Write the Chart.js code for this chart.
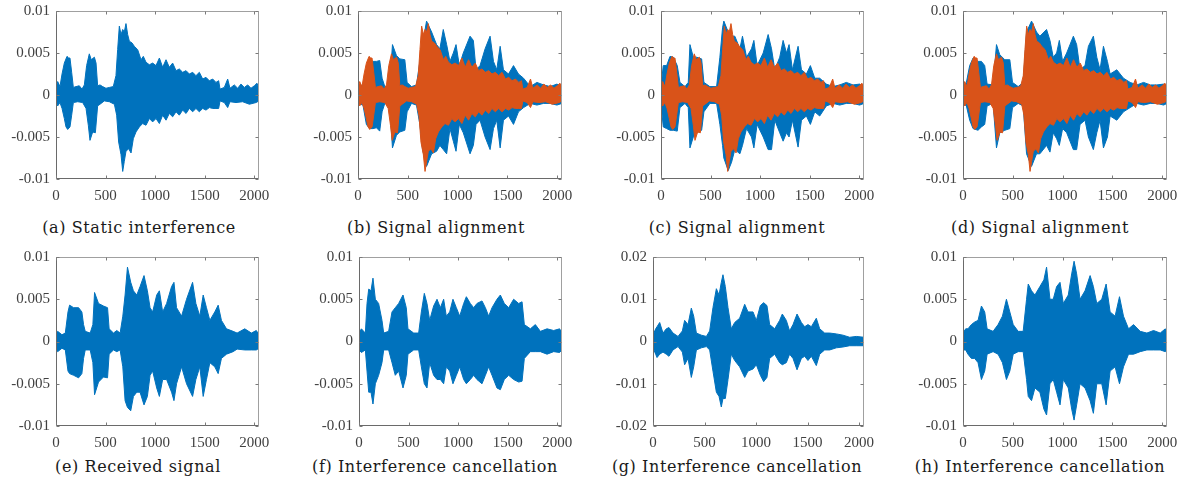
<!DOCTYPE html>
<html lang="en">
<head>
<meta charset="UTF-8" />
<title>Static interference, signal alignment and interference cancellation</title>
<script src="https://cdn.jsdelivr.net/npm/chart.js"></script>
<style>
  body { margin: 0; background: #fff; width: 1195px; height: 488px; position: relative; overflow: hidden; }
  canvas { position: absolute; }
  .cap {
    position: absolute; transform: translateX(-50%); white-space: nowrap;
    font-family: "DejaVu Serif", serif; font-size: 16px; letter-spacing: 0.6px;
    line-height: 20px; color: #1a1a1a;
  }
</style>
</head>
<body>
<canvas id="pa"></canvas><canvas id="pb"></canvas><canvas id="pc"></canvas><canvas id="pd"></canvas>
<canvas id="pe"></canvas><canvas id="pf"></canvas><canvas id="pg"></canvas><canvas id="ph"></canvas>

<div class="cap" style="left:139px;top:218px">(a) Static interference</div>
<div class="cap" style="left:436px;top:218px">(b) Signal alignment</div>
<div class="cap" style="left:737px;top:218px">(c) Signal alignment</div>
<div class="cap" style="left:1040px;top:218px">(d) Signal alignment</div>
<div class="cap" style="left:138px;top:457px">(e) Received signal</div>
<div class="cap" style="left:435px;top:457px">(f) Interference cancellation</div>
<div class="cap" style="left:737px;top:457px">(g) Interference cancellation</div>
<div class="cap" style="left:1040px;top:457px">(h) Interference cancellation</div>

<script>
// amplitudes are in units of 1e-3, read as upper / lower envelope of each waveform
// x = sample index (0..2048)

// tick labels
const xTickVals = [0, 500, 1000, 1500, 2000];
const xTickLabels = ['0', '500', '1000', '1500', '2000'];
const yTickVals = [-10, -5, 0, 5, 10];
const yTickLabels = ['-0.01', '-0.005', '0', '0.005', '0.01'];
const yTickValsG = [-20, -10, 0, 10, 20];
const yTickLabelsG = ['-0.02', '-0.01', '0', '0.01', '0.02'];

// (a) static interference (also the orange trace in b, c, d)
const xAhi = [0,17,40,61,84,111,128,141,158,175,202,235,262,286,309,336,356,387,404,420,444,471,504,538,578,605,622,639,656,673,689,706,723,740,767,790,824,858,881,908,942,975,1009,1043,1076,1110,1143,1177,1211,1244,1278,1312,1345,1379,1412,1446,1480,1513,1547,1581,1614,1641,1655,1698,1732,1755,1799,1833,1866,1900,1934,1967,2001,2028,2048];
const hiA = [0.7,1.6,1.0,2.5,3.8,4.6,4.4,4.4,2.7,0.9,1.0,1.1,0.7,1.2,3.5,4.9,4.2,4.5,3.8,1.1,1.2,1.0,0.8,0.9,1.0,2.3,5.4,8.2,7.2,7.8,7.5,8.5,7.2,6.4,6.2,5.8,5.4,4.2,4.6,3.9,3.6,3.8,3.5,4.4,3.3,4.2,3.3,3.8,2.9,3.1,2.7,2.9,2.5,2.7,2.3,2.7,1.9,2.1,1.7,1.9,1.5,1.7,0.7,0.9,1.9,0.8,1.2,0.8,1.3,0.9,1.2,0.8,1.1,1.4,0.7];
const xAlo = [0,17,40,61,84,101,118,141,158,175,219,269,303,326,343,370,397,420,444,488,538,589,612,632,656,673,689,706,733,757,780,807,841,874,908,942,975,1009,1043,1076,1110,1143,1177,1211,1244,1278,1312,1345,1379,1412,1446,1480,1513,1547,1581,1614,1641,1655,1698,1732,1755,1816,1883,1951,2018,2048];
const loA = [-0.7,-1.3,-0.9,-1.6,-2.8,-3.8,-4.1,-3.8,-2.4,-0.9,-0.8,-0.9,-1.6,-3.6,-5.4,-4.4,-4.5,-1.3,-1.1,-0.7,-0.8,-1.1,-2.4,-5.6,-7.1,-9.1,-7.9,-6.7,-6.4,-6.9,-5.2,-4.4,-3.8,-3.4,-3.6,-2.8,-3.2,-2.8,-3.4,-2.4,-3.0,-2.2,-2.6,-2.0,-2.4,-1.8,-2.2,-1.6,-2.0,-1.6,-2.0,-1.6,-1.8,-1.5,-1.6,-1.6,-1.6,-0.7,-0.9,-1.5,-0.8,-0.9,-0.8,-1.1,-0.9,-0.7];

// (b) blue trace
const xB = [0,50,84,117,151,185,218,242,269,319,346,386,420,470,493,537,587,621,648,688,739,789,822,856,890,923,957,984,1017,1057,1125,1158,1185,1225,1276,1326,1360,1393,1427,1460,1511,1561,1611,1662,1729,1796,1863,1930,1997,2048];
const hiB = [1.0,1.2,3.0,4.2,4.0,4.0,4.1,2.0,1.0,1.1,6.0,4.7,4.3,4.2,1.5,1.0,1.2,4.0,6.0,8.8,7.5,6.0,5.5,7.8,6.0,4.0,5.0,6.0,3.5,5.0,7.0,6.5,3.0,3.5,5.5,7.0,4.0,3.0,5.8,3.0,2.5,3.5,2.5,2.0,1.0,1.5,1.2,1.0,1.3,1.0];
const loB = [-1.0,-1.2,-3.5,-4.0,-4.0,-3.9,-4.3,-2.0,-1.0,-1.1,-6.3,-4.8,-4.4,-4.2,-2.0,-1.0,-1.2,-3.5,-6.5,-8.5,-7.0,-6.7,-6.0,-6.5,-7.0,-4.0,-5.5,-6.7,-3.5,-4.5,-7.0,-6.0,-3.5,-3.0,-5.0,-6.5,-4.0,-3.0,-6.3,-3.0,-2.5,-3.5,-2.0,-1.5,-1.0,-1.2,-1.0,-1.0,-1.2,-1.0];

// (c) blue trace
const xC = [0,23,57,91,124,164,191,242,275,292,326,359,410,433,493,561,594,621,634,678,712,745,796,822,863,913,937,970,1031,1081,1115,1148,1198,1232,1266,1292,1326,1383,1417,1467,1507,1551,1601,1668,1736,1803,1870,1937,2004,2048];
const hiC = [1.0,3.5,3.5,4.6,4.5,3.5,1.5,1.0,1.5,6.0,4.5,4.5,4.3,1.5,1.0,1.0,4.5,8.0,8.8,7.5,7.0,7.0,5.5,7.0,4.5,5.5,6.5,3.5,5.0,7.2,5.5,3.0,4.5,6.5,5.0,6.0,3.0,5.8,3.0,2.5,3.5,2.0,2.0,1.3,1.0,1.2,1.5,1.2,1.3,1.0];
const loC = [-1.0,-3.8,-4.0,-4.2,-4.2,-4.3,-1.5,-1.0,-1.5,-6.3,-5.0,-4.5,-4.2,-2.0,-1.0,-1.0,-3.5,-6.0,-7.5,-9.0,-8.0,-6.5,-7.0,-6.0,-4.0,-5.0,-6.3,-3.5,-5.0,-6.5,-6.5,-3.0,-4.5,-5.5,-4.5,-5.0,-3.0,-6.2,-3.0,-2.5,-3.5,-2.0,-2.5,-1.3,-1.0,-1.2,-1.0,-1.0,-1.2,-1.0];

// (d) blue trace
const xD = [0,34,67,101,151,185,218,242,302,336,369,420,470,497,554,604,638,688,738,772,839,873,906,940,967,1000,1041,1108,1141,1175,1225,1259,1309,1343,1376,1410,1450,1477,1544,1611,1678,1746,1813,1880,1947,2014,2048];
const hiD = [1.0,1.5,3.5,4.4,4.0,4.0,3.5,1.3,1.2,6.0,4.8,4.2,4.2,1.5,1.0,1.5,7.5,8.8,7.5,7.0,7.8,6.5,4.5,5.0,6.5,4.0,5.0,7.0,6.0,3.0,3.5,5.8,7.0,4.5,3.0,5.8,4.0,2.5,3.0,2.0,1.5,1.2,1.5,1.2,1.2,1.3,1.0];
const loD = [-1.0,-1.3,-3.0,-4.0,-4.2,-3.8,-3.5,-1.3,-1.0,-6.3,-4.5,-4.2,-4.0,-1.5,-1.0,-1.3,-7.0,-8.5,-7.0,-7.0,-6.0,-6.8,-4.5,-5.2,-6.0,-4.0,-4.5,-6.5,-6.5,-3.5,-3.0,-5.0,-6.5,-4.5,-3.0,-6.3,-5.0,-2.5,-3.0,-2.0,-1.5,-1.0,-1.2,-1.0,-1.0,-1.2,-1.0];

// (e) received signal
const xE = [0,17,60,94,121,137,178,228,261,278,295,345,372,389,429,479,520,536,580,613,647,674,697,721,754,781,815,848,888,922,949,975,1016,1043,1076,1116,1166,1190,1216,1267,1317,1378,1411,1451,1485,1518,1552,1602,1636,1669,1720,1787,1827,1904,1971,2021,2048];
const hiE = [1.0,1.2,0.8,1.0,3.5,4.3,4.0,4.0,3.5,2.0,1.2,1.0,2.0,5.8,4.5,4.2,4.0,1.5,1.0,1.3,1.0,3.0,5.5,8.8,7.0,6.0,5.5,6.5,7.8,6.0,4.0,3.5,5.5,6.0,3.5,4.5,6.5,7.0,4.0,3.0,5.0,7.0,4.5,3.0,5.5,4.0,2.5,3.5,4.3,2.5,1.5,1.2,1.0,1.5,1.0,1.3,0.8];
const loE = [-1.0,-1.2,-0.8,-1.0,-3.5,-3.8,-4.0,-4.3,-3.8,-2.0,-1.0,-1.0,-2.5,-6.3,-4.8,-4.2,-4.3,-1.5,-1.0,-1.2,-1.0,-3.0,-7.0,-7.8,-8.2,-6.5,-6.0,-6.0,-7.5,-6.5,-4.0,-3.5,-5.5,-6.5,-4.5,-4.5,-6.0,-7.0,-5.0,-3.0,-5.0,-6.5,-4.5,-3.0,-6.5,-4.5,-2.5,-3.0,-3.8,-2.0,-1.5,-1.2,-0.9,-1.0,-1.0,-1.0,-0.8];

// (f) interference cancellation
const xF = [0,24,64,81,98,121,141,165,198,232,249,299,333,366,400,444,477,494,552,602,629,659,686,713,753,787,821,854,881,915,948,982,1016,1056,1083,1123,1157,1190,1241,1275,1308,1342,1392,1426,1466,1510,1560,1611,1645,1668,1729,1779,1830,1897,1964,2024,2048];
const hiF = [1.0,1.5,1.0,4.5,6.2,6.0,7.5,5.0,4.5,2.5,1.0,1.2,3.5,4.0,4.5,5.5,4.0,1.5,1.0,1.0,3.5,5.7,4.5,2.5,4.2,5.0,4.0,5.0,3.0,3.5,5.0,4.0,3.0,4.5,5.3,4.5,4.0,4.5,4.8,4.0,3.0,4.0,5.0,5.5,4.5,4.0,5.0,4.5,4.7,2.0,1.5,2.0,1.2,1.5,1.3,1.5,1.0];
const loF = [-1.0,-1.3,-1.0,-3.5,-6.0,-6.0,-7.4,-5.0,-4.0,-2.5,-1.0,-1.0,-2.5,-4.0,-3.5,-5.5,-4.0,-1.5,-1.0,-1.0,-3.0,-5.0,-5.5,-2.5,-4.0,-4.5,-4.5,-5.0,-3.0,-3.5,-5.0,-4.0,-3.0,-4.5,-5.0,-4.5,-4.0,-4.5,-5.0,-4.0,-3.0,-4.0,-5.5,-5.7,-4.5,-4.0,-4.5,-4.8,-4.7,-2.0,-1.2,-1.2,-1.2,-1.5,-1.2,-1.3,-1.0];

// (g) interference cancellation
const xG = [0,26,39,65,97,129,155,194,243,285,307,340,372,395,421,469,518,550,582,615,641,663,679,702,728,760,793,841,890,922,971,1003,1042,1074,1106,1132,1181,1229,1255,1294,1326,1359,1398,1440,1472,1504,1537,1585,1618,1666,1715,1779,1844,1909,1973,2048];
const hiG = [1.5,3.0,3.5,4.5,2.0,3.0,3.3,2.0,1.2,2.5,5.0,4.0,7.9,6.0,2.0,1.5,1.2,2.5,8.0,12.5,11.0,14.0,15.8,13.0,8.0,3.0,4.5,5.5,8.8,7.0,7.0,5.0,8.5,9.2,8.5,4.0,3.0,5.0,6.5,5.0,2.5,4.0,6.5,4.5,3.5,4.0,3.5,5.5,3.0,2.0,2.0,1.8,1.5,1.0,1.2,1.0];
const loG = [-1.5,-3.0,-3.8,-3.0,-2.5,-3.0,-3.5,-2.0,-1.2,-2.5,-5.5,-4.0,-8.5,-6.0,-2.0,-1.5,-1.2,-2.0,-7.0,-12.0,-13.0,-15.5,-13.5,-13.5,-9.0,-3.0,-4.5,-6.0,-8.5,-7.0,-6.5,-5.5,-8.0,-9.5,-8.5,-4.0,-3.0,-5.0,-5.5,-5.0,-3.0,-4.0,-6.7,-4.0,-3.5,-4.5,-3.5,-5.7,-3.0,-2.0,-2.0,-1.5,-1.3,-1.0,-1.0,-1.0];

// (h) interference cancellation
const xH = [0,27,50,84,117,151,185,218,242,302,352,396,436,470,504,554,604,638,655,688,722,772,812,839,873,906,940,974,1007,1057,1091,1115,1141,1175,1225,1276,1309,1343,1393,1437,1477,1527,1571,1611,1662,1712,1779,1846,1913,1980,2031,2048];
const hiH = [1.0,1.5,1.5,2.0,2.3,2.5,4.2,3.5,1.5,1.2,2.0,3.0,5.0,3.5,2.0,1.2,1.2,5.0,6.8,6.0,5.5,6.5,7.3,8.8,5.0,5.0,6.5,7.0,4.5,5.5,8.0,9.5,8.0,5.0,6.0,7.8,6.5,4.5,5.0,6.8,3.5,3.0,5.3,3.0,1.5,2.0,1.2,1.0,1.3,1.0,1.5,1.0];
const loH = [-1.0,-1.0,-1.5,-2.0,-2.0,-2.5,-4.5,-3.5,-1.5,-1.2,-1.5,-2.5,-4.5,-3.5,-1.5,-1.2,-1.2,-4.5,-6.5,-7.0,-5.5,-6.0,-8.0,-8.7,-5.0,-4.5,-6.0,-7.5,-4.5,-5.5,-8.0,-9.3,-7.5,-5.0,-5.5,-7.0,-8.5,-5.0,-5.0,-7.5,-3.5,-3.0,-5.0,-3.0,-1.5,-1.5,-1.2,-1.0,-1.0,-1.0,-1.2,-1.0];

const BLUE = '#0072BD';
const ORANGE = '#D95319';
const tickFont = { family: 'Liberation Serif', size: 15 };
const tickColor = '#404040';

// [colour, x of upper envelope, upper, x of lower envelope, lower]
const traceA = [BLUE, xAhi, hiA, xAlo, loA];
const traceOrange = [ORANGE, xAhi, hiA, xAlo, loA];

// plot-area position of every panel on the page
const panels = [
  { id: 'pa', left: 56,  top: 11,  w: 203, h: 168, g: false, traces: [traceA] },
  { id: 'pb', left: 358, top: 11,  w: 204, h: 168, g: false, traces: [traceOrange, [BLUE, xB, hiB, xB, loB]] },
  { id: 'pc', left: 661, top: 11,  w: 203, h: 168, g: false, traces: [traceOrange, [BLUE, xC, hiC, xC, loC]] },
  { id: 'pd', left: 963, top: 11,  w: 204, h: 168, g: false, traces: [traceOrange, [BLUE, xD, hiD, xD, loD]] },
  { id: 'pe', left: 56,  top: 257, w: 203, h: 169, g: false, traces: [[BLUE, xE, hiE, xE, loE]] },
  { id: 'pf', left: 359, top: 257, w: 203, h: 169, g: false, traces: [[BLUE, xF, hiF, xF, loF]] },
  { id: 'pg', left: 653, top: 257, w: 211, h: 169, g: true,  traces: [[BLUE, xG, hiG, xG, loG]] },
  { id: 'ph', left: 963, top: 257, w: 204, h: 169, g: false, traces: [[BLUE, xH, hiH, xH, loH]] },
];

const Y_W = 56, X_H = 26, PAD_T = 11, PAD_R = 14;

// MATLAB style box with inward ticks on all four sides
const boxPlugin = {
  id: 'box',
  afterDatasetsDraw(chart) {
    const { ctx, chartArea: a, scales: { x, y } } = chart;
    const L = a.left + 0.5, R = a.right - 0.5, T = a.top + 0.5, B = a.bottom - 0.5;
    ctx.save();
    ctx.lineWidth = 1;
    ctx.strokeStyle = '#a0a0a0';
    ctx.beginPath();
    ctx.moveTo(L, T); ctx.lineTo(R, T); ctx.lineTo(R, B);
    ctx.stroke();
    ctx.strokeStyle = '#6a6a6a';
    ctx.beginPath();
    ctx.moveTo(L, T); ctx.lineTo(L, B); ctx.lineTo(R, B);
    ctx.stroke();
    ctx.strokeStyle = '#7a7a7a';
    ctx.beginPath();
    x.ticks.forEach(t => {
      const px = Math.round(x.getPixelForValue(t.value)) + 0.5;
      ctx.moveTo(px, B); ctx.lineTo(px, B - 3);
      ctx.moveTo(px, T); ctx.lineTo(px, T + 3);
    });
    y.ticks.forEach(t => {
      const py = Math.round(y.getPixelForValue(t.value)) + 0.5;
      ctx.moveTo(L, py); ctx.lineTo(L + 3, py);
      ctx.moveTo(R, py); ctx.lineTo(R - 3, py);
    });
    ctx.stroke();
    ctx.restore();
  }
};

function makeDatasets(traces) {
  const ds = [];
  traces.forEach(([color, xh, hi, xl, lo]) => {
    ds.push({
      data: xh.map((v, i) => ({ x: v, y: hi[i] })),
      borderColor: color, backgroundColor: color, fill: '+1'
    });
    ds.push({
      data: xl.map((v, i) => ({ x: v, y: lo[i] })),
      borderColor: color, backgroundColor: color, fill: false
    });
  });
  return ds;
}

panels.forEach(p => {
  const el = document.getElementById(p.id);
  el.width = p.w + Y_W + PAD_R;
  el.height = p.h + PAD_T + X_H;
  el.style.left = (p.left - Y_W) + 'px';
  el.style.top = (p.top - PAD_T) + 'px';

  const yVals = p.g ? yTickValsG : yTickVals;
  const yLabels = p.g ? yTickLabelsG : yTickLabels;

  new Chart(el, {
    type: 'line',
    data: { datasets: makeDatasets(p.traces) },
    options: {
      responsive: false,
      animation: false,
      devicePixelRatio: 1,
      layout: { padding: { top: PAD_T, right: PAD_R, left: 0, bottom: 0 } },
      plugins: { legend: { display: false }, tooltip: { enabled: false } },
      elements: { point: { radius: 0 }, line: { tension: 0, borderWidth: 1 } },
      scales: {
        x: {
          type: 'linear', min: 0, max: 2048,
          grid: { display: false, drawTicks: false },
          border: { display: false },
          afterBuildTicks: s => { s.ticks = xTickVals.map(v => ({ value: v })); },
          afterFit: s => { s.height = X_H; s.paddingLeft = 0; s.paddingRight = 0; },
          ticks: {
            padding: 8, maxRotation: 0, autoSkip: false,
            color: tickColor, font: tickFont,
            callback: (v, i) => xTickLabels[i]
          }
        },
        y: {
          min: yVals[0], max: yVals[yVals.length - 1],
          grid: { display: false, drawTicks: false },
          border: { display: false },
          afterBuildTicks: s => { s.ticks = yVals.map(v => ({ value: v })); },
          afterFit: s => { s.width = Y_W; s.paddingTop = 0; s.paddingBottom = 0; },
          ticks: {
            padding: 6, autoSkip: false,
            color: tickColor, font: tickFont,
            callback: (v, i) => yLabels[i]
          }
        }
      }
    },
    plugins: [boxPlugin]
  });
});
</script>
</body>
</html>
